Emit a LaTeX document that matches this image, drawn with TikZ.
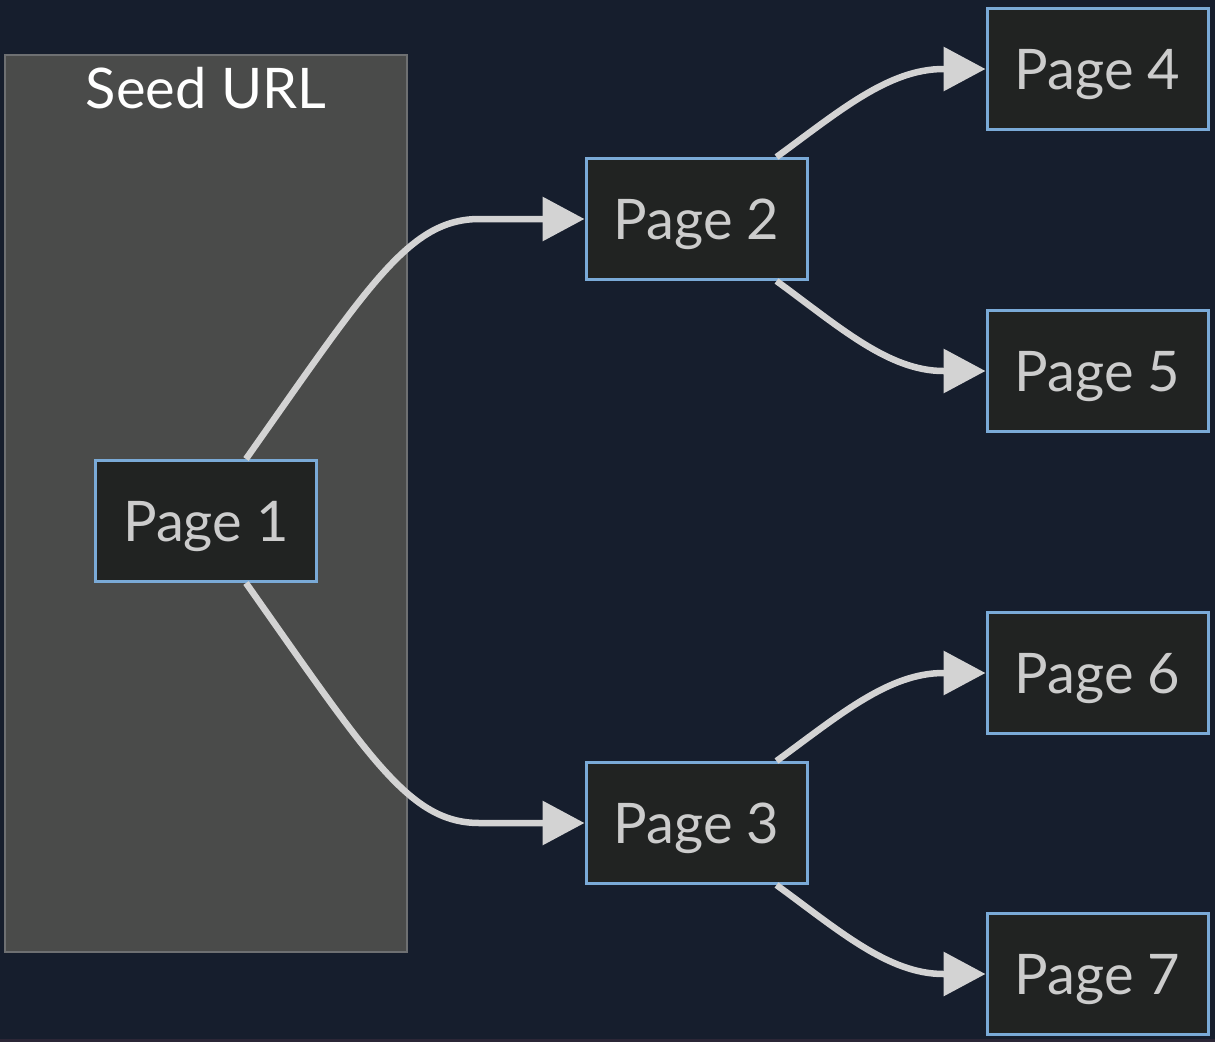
\documentclass[tikz,border=0pt]{standalone}
\usepackage{fontspec}
\setmainfont{Lato}
\usetikzlibrary{arrows.meta}
\definecolor{bg}{HTML}{161E2D}
\definecolor{strip}{HTML}{2B2636}
\definecolor{clfill}{HTML}{4A4B4A}
\definecolor{clline}{HTML}{6E7072}
\definecolor{nfill}{HTML}{212322}
\definecolor{nline}{HTML}{7AAAD7}
\definecolor{ntext}{HTML}{CCCCCC}
\definecolor{edge}{HTML}{D3D3D3}
\tikzset{
  page/.style={draw=nline, line width=3pt, fill=nfill, text=ntext,
    minimum width=221pt, minimum height=121pt, inner sep=0pt,
    font=\fontsize{56}{60}\selectfont, text height=40pt, text depth=0pt},
  link/.style={draw=edge, line width=6.5pt, -{Triangle[length=42pt,width=43pt]}}
}
\begin{document}
\begin{tikzpicture}[x=1pt,y=-1pt]
\fill[bg] (0,0) rectangle (1215,1042);
\useasboundingbox (0,0) rectangle (1215,1042);
\fill[strip] (0,1039) rectangle (1215,1042);
% cluster
\node[draw=clline, line width=2pt, fill=clfill, minimum width=402pt, minimum height=897pt, inner sep=0pt] (seed) at (206,503.5) {};
\node[text=white, font=\fontsize{56}{60}\selectfont, anchor=base] (seedlabel) at (206,108) {Seed URL};
% nodes
\node[page] (p1) at (206,521) {Page 1};
\node[page] (p2) at (696.5,219) {Page 2};
\node[page] (p3) at (696.5,823) {Page 3};
\node[page] (p4) at (1097.5,69) {Page 4};
\node[page] (p5) at (1097.5,371) {Page 5};
\node[page] (p6) at (1097.5,673) {Page 6};
\node[page] (p7) at (1097.5,974) {Page 7};
% edges
\draw[link] ([xshift=40pt]p1.north) .. controls +(124,-176) and +(-70,0) .. ([xshift=-105pt]p2.west) -- (p2.west);
\draw[link] ([xshift=40pt]p1.south) .. controls +(124,176) and +(-70,0) .. ([xshift=-105pt]p3.west) -- (p3.west);
\draw[link] ([xshift=80pt]p2.north) .. controls +(63,-46) and +(-55,0) .. ([xshift=-42pt]p4.west) -- (p4.west);
\draw[link] ([xshift=80pt]p2.south) .. controls +(63,46) and +(-55,0) .. ([xshift=-42pt]p5.west) -- (p5.west);
\draw[link] ([xshift=80pt]p3.north) .. controls +(63,-46) and +(-55,0) .. ([xshift=-42pt]p6.west) -- (p6.west);
\draw[link] ([xshift=80pt]p3.south) .. controls +(63,46) and +(-55,0) .. ([xshift=-42pt]p7.west) -- (p7.west);
\end{tikzpicture}
\end{document}
